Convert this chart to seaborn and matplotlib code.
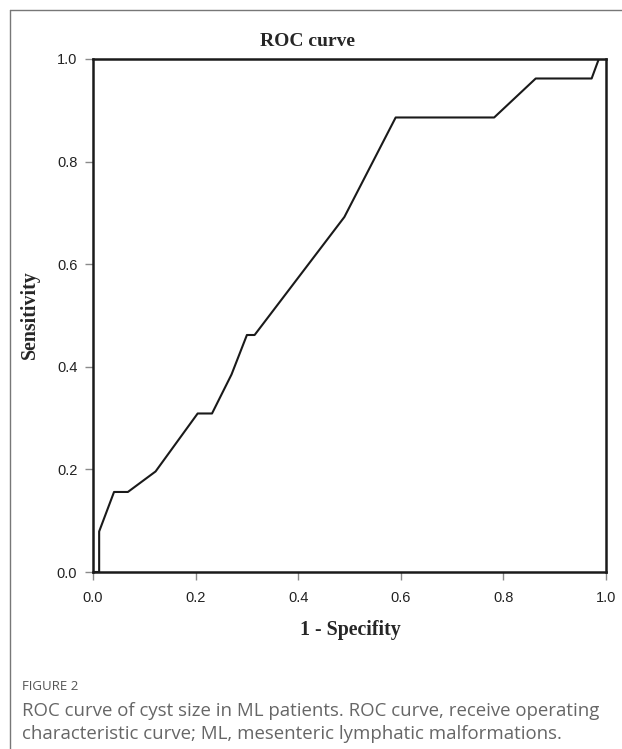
import numpy as np
import pandas as pd
import seaborn as sns
import matplotlib.pyplot as plt
from matplotlib.lines import Line2D

# ROC points
fpr = [0.0, 0.012, 0.012, 0.041, 0.068, 0.122, 0.204, 0.232, 0.27, 0.30, 0.315,
       0.49, 0.59, 0.782, 0.863, 0.972, 0.986, 1.0]
tpr = [0.0, 0.0, 0.079, 0.156, 0.156, 0.196, 0.309, 0.309, 0.385, 0.462, 0.462,
       0.692, 0.886, 0.886, 0.962, 0.962, 1.0, 1.0]
ticks = [0.0, 0.2, 0.4, 0.6, 0.8, 1.0]
tick_labels = ["0.0", "0.2", "0.4", "0.6", "0.8", "1.0"]

df = pd.DataFrame({"fpr": fpr, "tpr": tpr})

sns.set_style("white")
plt.rcParams["font.family"] = ["Liberation Sans", "DejaVu Sans"]

fig = plt.figure(figsize=(6.22, 7.49), dpi=100)
ax = fig.add_axes([93 / 622, 1 - 572 / 749, 513 / 622, 513 / 749])

sns.lineplot(data=df, x="fpr", y="tpr", sort=False, estimator=None,
             color="#1a1a1a", linewidth=1.5, ax=ax)

ax.set_xlim(0, 1)
ax.set_ylim(0, 1)
ax.set_xticks(ticks)
ax.set_xticklabels(tick_labels)
ax.set_yticks(ticks)
ax.set_yticklabels(tick_labels)
ax.tick_params(axis="both", direction="out", length=5.8, width=1, color="#8a8a8a",
               labelsize=10.5, labelcolor="#222222")
ax.tick_params(axis="y", pad=5.5)
ax.tick_params(axis="x", pad=8)
ax.tick_params(bottom=True, left=True)
for s in ax.spines.values():
    s.set_color("#1a1a1a")
    s.set_linewidth(1.8)
    s.set_visible(True)

ax.set_xlabel("")
ax.set_ylabel("")
serif = ["Liberation Serif", "DejaVu Serif"]
fig.text(308 / 622, 1 - 42 / 749, "ROC curve", family=serif, weight="bold",
         fontsize=14, ha="center", va="center")
fig.text(30 / 622, 1 - 315 / 749, "Sensitivity", family=serif, weight="bold",
         fontsize=14.3, rotation=90, ha="center", va="center")
fig.text(350 / 622, 1 - 630 / 749, "1 - Specifity", family=serif, weight="bold",
         fontsize=14.3, ha="center", va="center")

sans = ["Open Sans", "DejaVu Sans"]
fig.text(22 / 622, 1 - 686 / 749, "FIGURE 2", family=sans, fontsize=9.5,
         color="#555555", ha="left", va="center")
fig.text(22 / 622, 1 - 711 / 749,
         "ROC curve of cyst size in ML patients. ROC curve, receive operating",
         family=sans, fontsize=13.4, color="#666666", ha="left", va="center")
fig.text(22 / 622, 1 - 734 / 749,
         "characteristic curve; ML, mesenteric lymphatic malformations.",
         family=sans, fontsize=13.4, color="#666666", ha="left", va="center")

# outer frame of the figure panel
fig.add_artist(Line2D([10 / 622, 10 / 622], [0, 1 - 10 / 749], transform=fig.transFigure,
                      color="#777777", linewidth=1))
fig.add_artist(Line2D([10 / 622, 1], [1 - 10 / 749, 1 - 10 / 749], transform=fig.transFigure,
                      color="#777777", linewidth=1))

fig.savefig("out.png", dpi=100)
